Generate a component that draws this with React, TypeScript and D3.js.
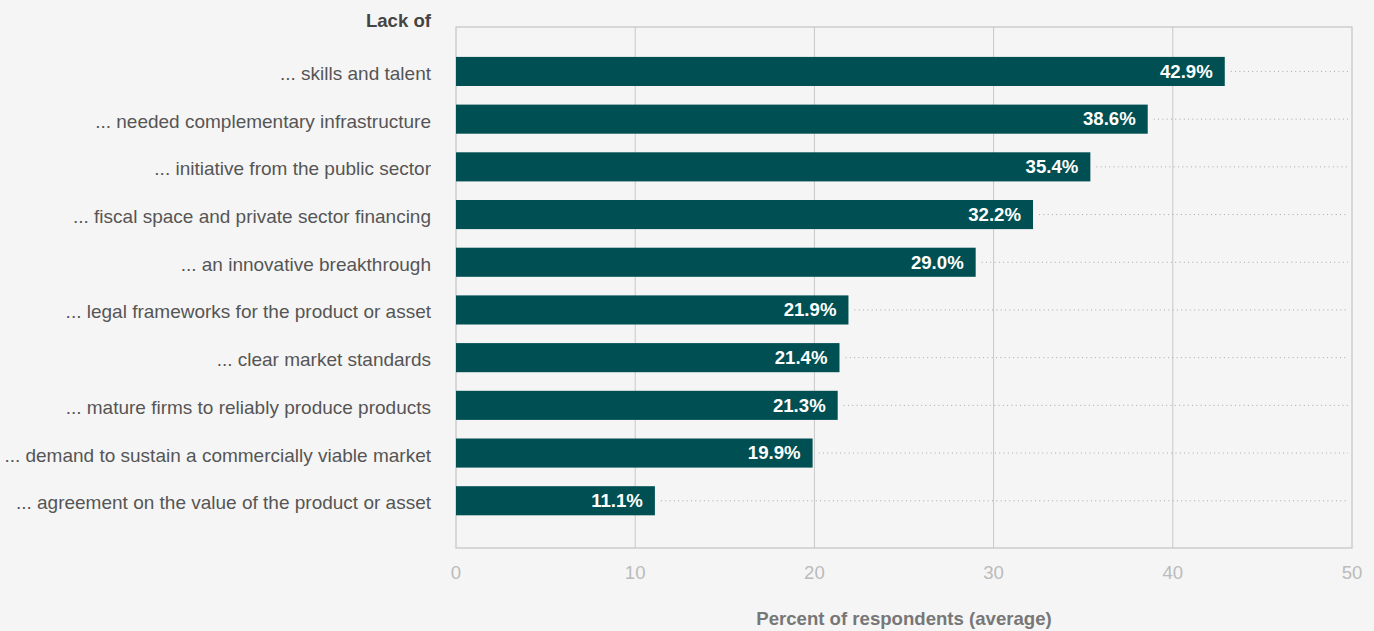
import React from "react";
import * as d3 from "d3";

const categories = [
  "... skills and talent",
  "... needed complementary infrastructure",
  "... initiative from the public sector",
  "... fiscal space and private sector financing",
  "... an innovative breakthrough",
  "... legal frameworks for the product or asset",
  "... clear market standards",
  "... mature firms to reliably produce products",
  "... demand to sustain a commercially viable market",
  "... agreement on the value of the product or asset",
];
const values = [42.9, 38.6, 35.4, 32.2, 29.0, 21.9, 21.4, 21.3, 19.9, 11.1];
const xTicks = [0, 10, 20, 30, 40, 50];
const groupTitle = "Lack of";
const xTitle = "Percent of respondents (average)";

const W = 1374;
const H = 631;
const left = 456;
const right = 1352;
const top = 27;
const bottom = 548;
const FONT = "'Liberation Sans', Arial, Helvetica, sans-serif";
const FS = 18.6;

export default function App() {
  const x = d3.scaleLinear().domain([0, 50]).range([left, right]);
  const y = d3
    .scaleBand<string>()
    .domain(categories)
    .range([47.6, 524.6])
    .paddingInner(0.39)
    .paddingOuter(0.195);

  return (
    <svg
      width={W}
      height={H}
      style={{ position: "absolute", left: 0, top: 0, background: "#f5f5f5" }}
      fontFamily={FONT}
    >
      <rect x={0} y={0} width={W} height={H} fill="#f5f5f5" />
      {/* gridlines */}
      {xTicks.slice(1, -1).map((t) => (
        <line key={t} x1={x(t)} x2={x(t)} y1={top} y2={bottom} stroke="#c8c8c8" strokeWidth={1} />
      ))}
      {/* frame */}
      <rect x={left} y={top} width={right - left} height={bottom - top} fill="none" stroke="#c4c4c4" strokeWidth={1.2} />
      {/* bars */}
      {categories.map((c, i) => {
        const yy = y(c)!;
        const bh = y.bandwidth();
        const cy = yy + bh / 2;
        return (
          <g key={c}>
            <line x1={x(values[i]) + 6} x2={right - 4} y1={cy} y2={cy} stroke="#a8a8a8" strokeWidth={1} strokeDasharray="1 3.3" />
            <rect x={x(0)} y={yy} width={x(values[i]) - x(0)} height={bh} fill="#004f52" />
            <text x={x(values[i]) - 12} y={cy + 6.3} textAnchor="end" fill="#ffffff" fontWeight="bold" fontSize={FS}>
              {values[i].toFixed(1)}%
            </text>
            <text x={431} y={cy + 8.5} textAnchor="end" fill="#555555" fontSize={19}>
              {c}
            </text>
          </g>
        );
      })}
      {/* x tick labels */}
      {xTicks.map((t) => (
        <text key={t} x={x(t)} y={579} textAnchor="middle" fill="#bbbbbb" fontSize={FS}>
          {t}
        </text>
      ))}
      <text x={431} y={26.5} textAnchor="end" fill="#444444" fontWeight="bold" fontSize={FS}>
        {groupTitle}
      </text>
      <text x={(left + right) / 2} y={625} textAnchor="middle" fill="#777777" fontWeight="bold" fontSize={FS}>
        {xTitle}
      </text>
    </svg>
  );
}
